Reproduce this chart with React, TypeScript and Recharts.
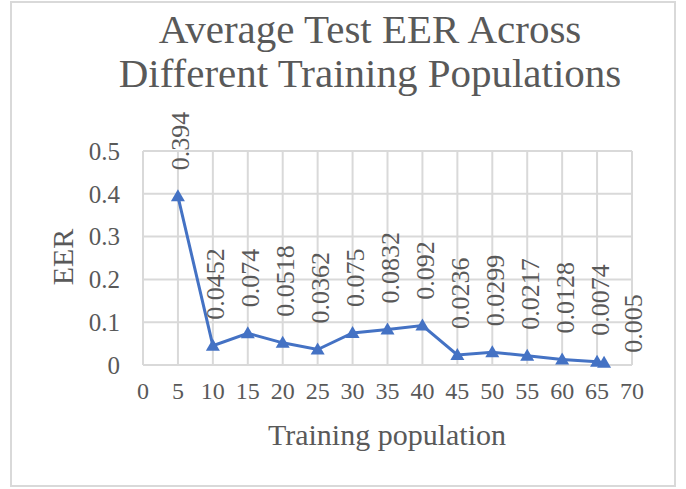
import { CartesianGrid, LabelList, Line, LineChart, XAxis, YAxis } from "recharts";

// training population (x) and average test EER (y)
const POPULATIONS = [5, 10, 15, 20, 25, 30, 35, 40, 45, 50, 55, 60, 65, 66];
const EER = [0.394, 0.0452, 0.074, 0.0518, 0.0362, 0.075, 0.0832, 0.092, 0.0236, 0.0299, 0.0217, 0.0128, 0.0074, 0.005];
const X_TICKS = [0, 5, 10, 15, 20, 25, 30, 35, 40, 45, 50, 55, 60, 65, 70];
const Y_TICKS = [0, 0.1, 0.2, 0.3, 0.4, 0.5];

const TEXT = "#595959";
const GRID = "#d9d9d9";
const BLUE = "#4472C4";
const FONT = "Liberation Serif";

const data = POPULATIONS.map((p, i) => ({ pop: p, eer: EER[i] }));

// triangle marker
function TriangleDot(props: any) {
  const { cx, cy, index } = props;
  if (cx == null || cy == null) return null;
  return (
    <polygon
      key={index}
      points={`${cx},${cy - 7} ${cx - 7},${cy + 5} ${cx + 7},${cy + 5}`}
      fill={BLUE}
    />
  );
}

// rotated value label above each point; last one is nudged right like the original
function RotatedLabel(props: any) {
  const { x, y, value, index } = props;
  const last = index === data.length - 1;
  const lx = (last ? x + 26 : x) + 3;
  const ly = last ? y - 10 : y - 26;
  return (
    <text
      x={lx}
      y={ly}
      transform={`rotate(-90 ${lx} ${ly})`}
      textAnchor="start"
      dominantBaseline="central"
      fill={TEXT}
      fontSize={26}
      fontFamily={FONT}
    >
      {String(value)}
    </text>
  );
}

export default function App() {
  return (
    <div style={{ position: "absolute", left: 0, top: 0, width: 686, height: 489, background: "#fff", fontFamily: FONT, color: TEXT }}>
      <div
        style={{
          position: "absolute",
          left: 10,
          top: 1,
          width: 666,
          height: 486,
          border: `2px solid ${GRID}`,
          boxSizing: "border-box",
        }}
      />
      <div
        style={{
          position: "absolute",
          left: 0,
          top: 7,
          width: 740,
          textAlign: "center",
          fontSize: 41,
          lineHeight: "44px",
        }}
      >
        Average Test EER Across
        <br />
        Different Training Populations
      </div>
      <div
        style={{
          position: "absolute",
          left: 63,
          top: 257,
          transform: "translate(-50%, -50%) rotate(-90deg)",
          fontSize: 30,
          whiteSpace: "nowrap",
        }}
      >
        EER
      </div>
      <div
        style={{
          position: "absolute",
          left: 387,
          top: 419,
          transform: "translateX(-50%)",
          fontSize: 30,
          lineHeight: "32px",
          whiteSpace: "nowrap",
        }}
      >
        Training population
      </div>
      <LineChart
        width={686}
        height={489}
        data={data}
        margin={{ top: 151, right: 54, bottom: 64, left: 0 }}
        style={{ position: "absolute", left: 0, top: 0 }}
      >
        <CartesianGrid stroke={GRID} strokeWidth={2} />
        <XAxis
          dataKey="pop"
          type="number"
          domain={[0, 70]}
          ticks={X_TICKS}
          interval={0}
          height={60}
          axisLine={false}
          tickLine={false}
          tickMargin={11}
          tick={{ fill: TEXT, fontSize: 24, fontFamily: FONT }}
        />
        <YAxis
          type="number"
          domain={[0, 0.5]}
          ticks={Y_TICKS}
          width={143}
          axisLine={false}
          tickLine={false}
          tickMargin={17}
          tick={{ fill: TEXT, fontSize: 25, fontFamily: FONT }}
        />
        <Line
          dataKey="eer"
          stroke={BLUE}
          strokeWidth={3}
          dot={<TriangleDot />}
          activeDot={false}
          isAnimationActive={false}
        >
          <LabelList dataKey="eer" content={<RotatedLabel />} />
        </Line>
      </LineChart>
    </div>
  );
}
